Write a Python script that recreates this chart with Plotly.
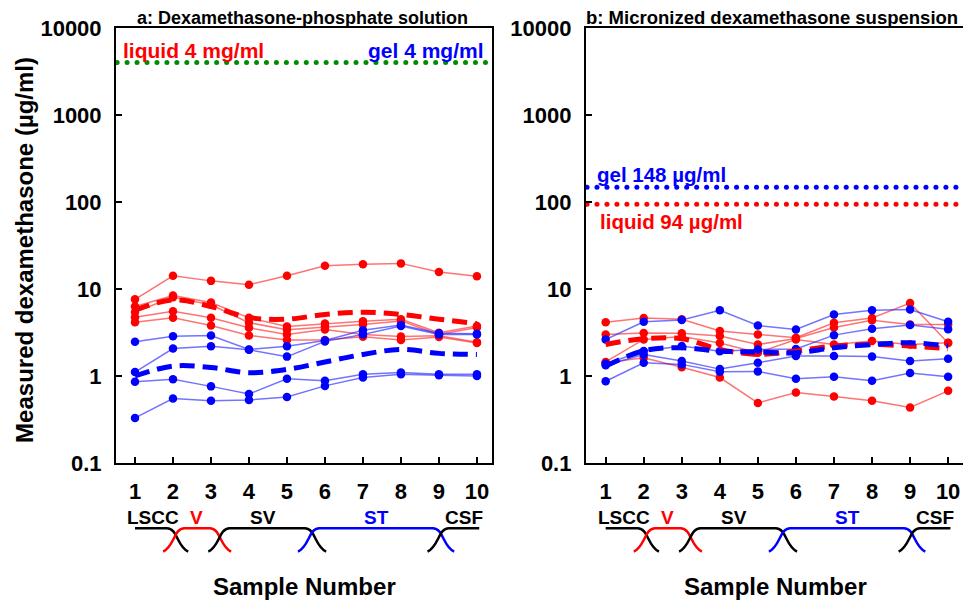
import numpy as np
import plotly.graph_objects as go

SAMPLES = list(range(1, 11))

# Panel a: Dexamethasone-phosphate solution (µg/ml)
A_RED = [
    [7.6, 14.2, 12.4, 11.2, 14.2, 18.5, 19.2, 19.7, 15.7, 14.0],
    [6.3, 8.4, 7.0, 4.66, 3.7, 4.0, 4.26, 4.5, 3.15, 3.75],
    [5.45, 8.05, 6.6, 4.1, 3.4, 3.67, 3.9, 4.3, 3.0, 3.6],
    [4.73, 5.55, 4.66, 3.58, 3.0, 3.42, 3.0, 2.85, 2.9, 2.45],
    [4.15, 4.66, 3.8, 2.92, 2.6, 2.6, 2.82, 2.6, 2.8, 2.4],
]
A_RED_MEAN = [5.7, 7.5, 6.3, 4.7, 4.5, 5.1, 5.4, 5.1, 4.5, 4.0]
A_BLUE = [
    [2.47, 2.87, 2.92, 2.02, 2.2, 2.56, 3.35, 3.85, 3.1, 3.05],
    [1.11, 2.07, 2.2, 2.0, 1.67, 2.5, 3.0, 3.75, 3.0, 3.0],
    [0.86, 0.92, 0.76, 0.62, 0.93, 0.88, 1.05, 1.1, 1.05, 1.05],
    [0.33, 0.55, 0.52, 0.53, 0.575, 0.77, 0.96, 1.05, 1.02, 1.0],
]
A_BLUE_MEAN = [1.0, 1.3, 1.25, 1.09, 1.19, 1.45, 1.77, 2.02, 1.82, 1.77]
A_APPLIED = 4000  # liquid and gel 4 mg/ml

# Panel b: Micronized dexamethasone suspension (µg/ml)
B_RED = [
    [4.16, 4.65, 4.5, 3.3, 3.0, 2.75, 4.1, 4.65, 6.9, 2.4],
    [3.0, 3.13, 3.1, 2.88, 2.3, 2.7, 3.6, 4.38, 3.9, 3.9],
    [1.45, 2.63, 2.85, 2.4, 1.85, 2.63, 2.3, 2.52, 2.3, 2.41],
    [1.42, 1.62, 1.26, 0.96, 0.49, 0.645, 0.58, 0.52, 0.434, 0.675],
]
B_RED_MEAN = [2.3, 2.68, 2.68, 2.02, 1.77, 1.94, 2.21, 2.3, 2.21, 2.06]
B_BLUE = [
    [2.63, 4.2, 4.4, 5.7, 3.8, 3.43, 5.1, 5.7, 5.8, 4.2],
    [1.38, 1.94, 2.21, 1.93, 2.02, 2.04, 2.95, 3.49, 3.85, 3.45],
    [1.33, 1.77, 1.49, 1.2, 1.42, 1.7, 1.7, 1.67, 1.49, 1.58],
    [0.87, 1.42, 1.36, 1.12, 1.13, 0.93, 0.98, 0.88, 1.08, 0.98],
]
B_BLUE_MEAN = [1.3, 1.95, 2.11, 1.93, 1.89, 1.85, 2.11, 2.3, 2.41, 2.21]
B_GEL = 148
B_LIQUID = 94

Y_TICKS = [0.1, 1, 10, 100, 1000, 10000]
Y_TICK_TEXT = ["0.1", "1", "10", "100", "1000", "10000"]

# Cochlear region schematic (in sample-number units)
SEG_NAMES = ["LSCC", "V", "SV", "ST", "CSF"]
SEG_COLORS = ["black", "red", "black", "blue", "black"]
SEG_START = [1.0, 1.74, 2.93, 5.29, 8.70]
SEG_END = [2.40, 3.53, 6.03, 9.40, 10.06]
SEG_LEFT_CURVE = [False, True, True, True, True]
SEG_RIGHT_CURVE = [True, True, True, True, False]
SEG_LABEL_X = [1.47, 2.63, 4.36, 7.35, 9.66]

FONT = "Liberation Sans, Arial, sans-serif"
RED_LINE = "rgba(255,40,40,0.65)"
BLUE_LINE = "rgba(40,40,255,0.65)"

fig = go.Figure()

def add_panel(xa, ya, reds, red_mean, blues, blue_mean):
    for s in reds:
        fig.add_trace(go.Scatter(x=SAMPLES, y=s, mode="lines+markers", xaxis=xa, yaxis=ya,
                                 line=dict(color=RED_LINE, width=1.5),
                                 marker=dict(color="rgb(255,0,0)", size=8.5), showlegend=False))
    for s in blues:
        fig.add_trace(go.Scatter(x=SAMPLES, y=s, mode="lines+markers", xaxis=xa, yaxis=ya,
                                 line=dict(color=BLUE_LINE, width=1.5),
                                 marker=dict(color="rgb(0,0,255)", size=8.5), showlegend=False))
    fig.add_trace(go.Scatter(x=SAMPLES, y=red_mean, mode="lines", xaxis=xa, yaxis=ya,
                             line=dict(color="rgb(255,0,0)", width=5, dash="15px,8px", shape="spline"),
                             showlegend=False))
    fig.add_trace(go.Scatter(x=SAMPLES, y=blue_mean, mode="lines", xaxis=xa, yaxis=ya,
                             line=dict(color="rgb(0,0,255)", width=5, dash="15px,8px", shape="spline"),
                             showlegend=False))

def add_dotted(xa, ya, value, color, x0, x1):
    xs = np.arange(x0, x1, 0.262)
    fig.add_trace(go.Scatter(x=xs, y=[value] * len(xs), mode="markers", xaxis=xa, yaxis=ya,
                             marker=dict(color=color, size=5), showlegend=False))

add_dotted("x", "y", A_APPLIED, "rgb(0,140,0)", 0.53, 10.4)
add_dotted("x2", "y2", B_GEL, "rgb(0,0,255)", 0.51, 10.47)
add_dotted("x2", "y2", B_LIQUID, "rgb(255,0,0)", 0.51, 10.47)

add_panel("x", "y", A_RED, A_RED_MEAN, A_BLUE, A_BLUE_MEAN)
add_panel("x2", "y2", B_RED, B_RED_MEAN, B_BLUE, B_BLUE_MEAN)

axis_common = dict(showline=True, linecolor="black", linewidth=2, mirror=True,
                   ticks="inside", ticklen=6, tickwidth=1.5, tickcolor="black",
                   showgrid=False, zeroline=False,
                   tickfont=dict(family=FONT, size=22, color="black", weight="bold"))

# page body has an 8px margin, so the figure is sized to fit the 971x602 window
fig.update_layout(
    width=963, height=594,
    margin=dict(l=108, r=3, t=20, b=139),
    plot_bgcolor="white", paper_bgcolor="white",
    xaxis=dict(domain=[0, 0.4425], range=[0.5, 10.4], tickvals=SAMPLES,
               ticklabelstandoff=8, **axis_common),
    xaxis2=dict(domain=[0.5528, 1], range=[0.48, 10.47], tickvals=SAMPLES, anchor="y2",
                ticklabelstandoff=8, **axis_common),
    yaxis=dict(type="log", range=[-1, 4], tickvals=Y_TICKS, ticktext=Y_TICK_TEXT,
               ticklabelstandoff=8, **axis_common),
    yaxis2=dict(type="log", range=[-1, 4], tickvals=Y_TICKS, ticktext=Y_TICK_TEXT, anchor="x2",
                ticklabelstandoff=8, **axis_common),
)

# schematic shapes
Y_TOP, Y_BOT = -0.150, -0.204
CW = 0.56

def curve_down(xt, xb):
    # from top (horizontal) at xt down to bottom at xb
    dx = xb - xt
    return (f"M {xt},{Y_TOP} C {xt + 0.5 * dx},{Y_TOP} {xt + 0.45 * dx},"
            f"{Y_TOP + 0.75 * (Y_BOT - Y_TOP)} {xb},{Y_BOT}")

for ref in ("x", "x2"):
    for name, col, s, e, lc, rc, lx in zip(SEG_NAMES, SEG_COLORS, SEG_START, SEG_END,
                                           SEG_LEFT_CURVE, SEG_RIGHT_CURVE, SEG_LABEL_X):
        hs = s + CW if lc else s
        he = e - CW if rc else e
        path = f"M {hs},{Y_TOP} L {he},{Y_TOP}"
        if lc:
            path += " " + curve_down(hs, s)
        if rc:
            path += " " + curve_down(he, e)
        fig.add_shape(type="path", path=path, xref=ref, yref="paper",
                      line=dict(color=col, width=2.5))
        fig.add_annotation(x=lx, y=-0.125, xref=ref, yref="paper", text=name, showarrow=False,
                           font=dict(family=FONT, size=19, color=col, weight="bold"),
                           xanchor="center", yanchor="middle")

def ann(text, x, y, xref, yref, size, color="black", xanchor="center", angle=0):
    fig.add_annotation(text=text, x=x, y=y, xref=xref, yref=yref, showarrow=False,
                       font=dict(family=FONT, size=size, color=color, weight="bold"),
                       xanchor=xanchor, yanchor="middle", textangle=angle)

ann("a: Dexamethasone-phosphate solution", 0.495, 1.023, "x domain", "paper", 18)
ann("b: Micronized dexamethasone suspension", 0.49, 1.023, "x2 domain", "paper", 18.5)
ann("liquid 4 mg/ml", 0.63, 0.949, "x", "paper", 21, "red", "left")
ann("gel 4 mg/ml", 10.24, 0.949, "x", "paper", 21, "blue", "right")
ann("gel 148 µg/ml", 0.72, 0.664, "x2", "paper", 20.5, "blue", "left")
ann("liquid 94 µg/ml", 0.80, 0.556, "x2", "paper", 20.5, "red", "left")
ann("Sample Number", 0.5, -0.283, "x domain", "paper", 24)
ann("Sample Number", 0.5, -0.283, "x2 domain", "paper", 24)
ann("Measured dexamethasone (µg/ml)", -0.107, 0.49, "paper", "paper", 24, angle=-90)

fig.write_html("out.html")
